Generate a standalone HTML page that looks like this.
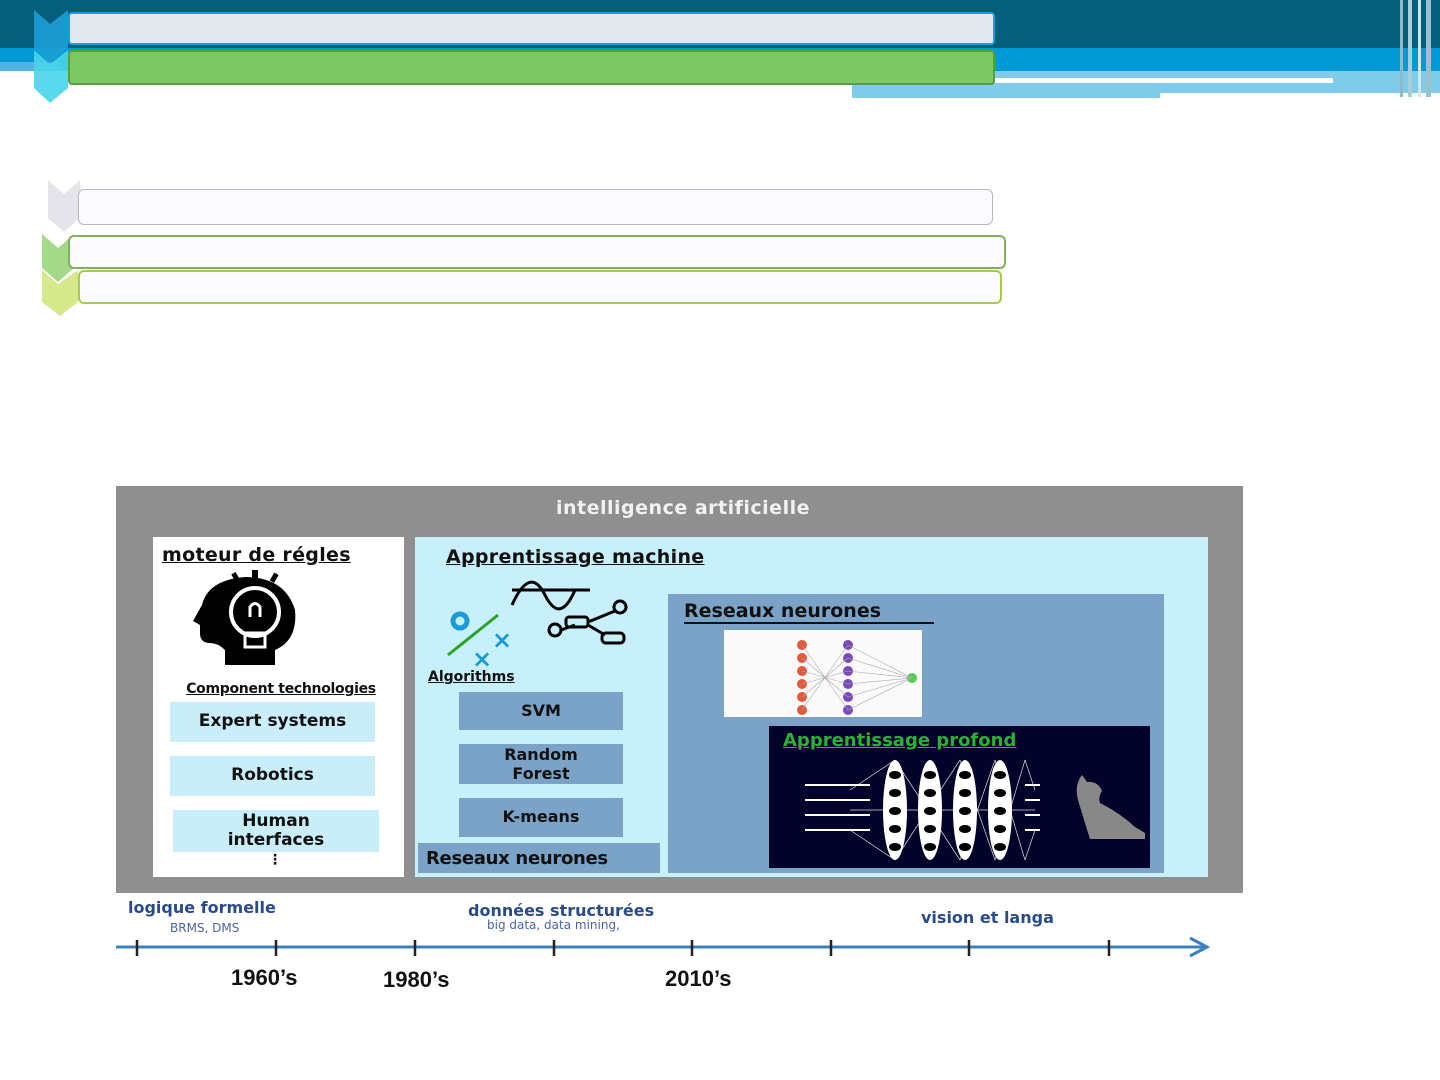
<!DOCTYPE html>
<html><head><meta charset="utf-8"><style>
*{margin:0;padding:0;box-sizing:border-box}
body{width:1440px;height:1080px;background:#fff;position:relative;overflow:hidden;font-family:"DejaVu Sans","Liberation Sans",sans-serif}
.a{position:absolute}
.t{position:absolute;font-weight:bold;text-align:center;color:#111}
</style></head><body>
<div class="a" style="left:0;top:0;width:1440px;height:48px;background:#055f7a"></div>
<div class="a" style="left:0;top:48px;width:1440px;height:23px;background:#0199d6"></div>
<div class="a" style="left:0;top:62px;width:60px;height:9px;background:#4fb4e2"></div>
<div class="a" style="left:852px;top:71px;width:588px;height:22px;background:#7ecbea"></div>
<div class="a" style="left:852px;top:93px;width:308px;height:5px;background:#7ecbea"></div>
<div class="a" style="left:995px;top:78px;width:338px;height:5px;background:#fff"></div>
<div class="a" style="left:1400px;top:0;width:3px;height:97px;background:#8fb9c9"></div>
<div class="a" style="left:1408px;top:0;width:4px;height:97px;background:#aacbd8"></div>
<div class="a" style="left:1418px;top:0;width:3px;height:97px;background:#d0e4ec"></div>
<div class="a" style="left:1426px;top:0;width:5px;height:97px;background:#9bc1cf"></div>
<svg class="a" style="left:30px;top:8px" width="45" height="96">
<polygon points="4,2 20,16 38,2 38,40 20,55 4,40" fill="#1d9fd6" opacity=".9"/>
<polygon points="4,42 20,56 38,42 38,80 20,95 4,80" fill="#48d4ea" opacity=".9"/>
</svg>
<div class="a" style="left:68px;top:12px;width:927px;height:33px;background:#e2e9ef;border:2px solid #1b9fd9;border-radius:4px"></div>
<div class="a" style="left:68px;top:50px;width:927px;height:35px;background:#7dc765;border:2px solid #5b9a48;border-radius:4px"></div>
<svg class="a" style="left:40px;top:178px" width="45" height="140">
<polygon points="8,2 24,16 40,2 40,40 24,54 8,40" fill="#e4e4ea"/>
<polygon points="2,56 18,70 34,56 34,90 18,104 2,90" fill="#a5d98a"/>
<polygon points="2,92 18,106 38,92 38,124 20,138 2,124" fill="#d7e98d"/>
</svg>
<div class="a" style="left:78px;top:189px;width:915px;height:36px;background:#fbfbfd;border:1px solid #b9b5c2;border-radius:6px"></div>
<div class="a" style="left:68px;top:235px;width:938px;height:34px;background:#fbfbfd;border:2px solid #7fb05e;border-radius:6px"></div>
<div class="a" style="left:78px;top:270px;width:924px;height:34px;background:#fbfbfd;border:2px solid #a9c94b;border-radius:6px"></div>
<div class="a" style="left:116px;top:486px;width:1127px;height:407px;background:#8f8f8f"></div>
<div class="t" style="left:116px;top:497px;width:1134px;color:#f2f2f2;font-size:19px;letter-spacing:.5px">intelligence artificielle</div>
<div class="a" style="left:153px;top:537px;width:251px;height:340px;background:#fff"></div>
<div class="a" style="left:415px;top:537px;width:793px;height:340px;background:#c8f0fa"></div>
<div class="t" style="left:162px;top:544px;width:218px;font-size:19px;text-decoration:underline;text-align:left;letter-spacing:.3px">moteur de régles</div>
<svg class="a" style="left:190px;top:565px" width="130" height="105">
<path d="M35,100 L35,85 Q28,78 20,78 Q10,78 10,68 L10,60 L3,56 L12,40 Q18,15 55,12 Q95,12 105,45 Q108,75 85,85 L85,100 Z" fill="#000"/>
<circle cx="65" cy="47" r="24" fill="none" stroke="#fff" stroke-width="4"/>
<rect x="55" y="68" width="20" height="14" fill="none" stroke="#fff" stroke-width="3"/>
<path d="M60,52 L60,42 Q65,35 70,42 L70,52" fill="none" stroke="#fff" stroke-width="3"/>
<rect x="62" y="5" width="6" height="10" fill="#000"/>
<rect x="43" y="8" width="5" height="9" fill="#000" transform="rotate(-30 45 12)"/>
<rect x="82" y="8" width="5" height="9" fill="#000" transform="rotate(30 84 12)"/>
</svg>
<div class="t" style="left:160px;top:681px;width:242px;font-size:14px;text-decoration:underline;letter-spacing:-.3px;white-space:nowrap">Component technologies</div>
<div class="a" style="left:170px;top:702px;width:205px;height:40px;background:#c9eefa"></div>
<div class="t" style="left:170px;top:711px;width:205px;font-size:17px">Expert systems</div>
<div class="a" style="left:170px;top:756px;width:205px;height:40px;background:#c9eefa"></div>
<div class="t" style="left:170px;top:765px;width:205px;font-size:17px">Robotics</div>
<div class="a" style="left:173px;top:810px;width:206px;height:42px;background:#c9eefa"></div>
<div class="t" style="left:173px;top:812px;width:206px;font-size:17px;line-height:19px">Human<br>interfaces</div>
<div class="t" style="left:265px;top:852px;width:20px;font-size:14px">⋮</div>
<div class="t" style="left:446px;top:546px;width:320px;font-size:19px;text-decoration:underline;text-align:left;letter-spacing:.3px">Apprentissage machine</div>
<svg class="a" style="left:440px;top:575px" width="200" height="95">
<circle cx="20" cy="46" r="7" fill="none" stroke="#1a9ad6" stroke-width="5"/>
<line x1="8" y1="80" x2="58" y2="40" stroke="#2aa32a" stroke-width="3"/>
<text x="52" y="73" fill="#1a9ad6" font-size="24" font-weight="bold" font-family="DejaVu Sans">×</text>
<text x="32" y="92" fill="#1a9ad6" font-size="24" font-weight="bold" font-family="DejaVu Sans">×</text>
<path d="M72,30 Q90,-10 105,20 Q120,50 135,15" fill="none" stroke="#000" stroke-width="3"/>
<line x1="72" y1="15" x2="150" y2="15" stroke="#000" stroke-width="3"/>
<circle cx="115" cy="55" r="6" fill="none" stroke="#000" stroke-width="3"/>
<rect x="126" y="42" width="22" height="10" rx="3" fill="none" stroke="#000" stroke-width="3"/>
<circle cx="180" cy="32" r="6" fill="none" stroke="#000" stroke-width="3"/>
<rect x="162" y="58" width="22" height="10" rx="4" fill="none" stroke="#000" stroke-width="3"/>
<path d="M121,55 L135,50 M148,47 L175,36 M148,50 L165,60" stroke="#000" stroke-width="3"/>
</svg>
<div class="t" style="left:428px;top:669px;width:120px;font-size:14px;text-decoration:underline;text-align:left">Algorithms</div>
<div class="a" style="left:459px;top:692px;width:164px;height:38px;background:#7ba3c8"></div>
<div class="t" style="left:459px;top:701px;width:164px;font-size:16px">SVM</div>
<div class="a" style="left:459px;top:744px;width:164px;height:40px;background:#7ba3c8"></div>
<div class="t" style="left:459px;top:745px;width:164px;font-size:16px;line-height:19px">Random<br>Forest</div>
<div class="a" style="left:459px;top:798px;width:164px;height:39px;background:#7ba3c8"></div>
<div class="t" style="left:459px;top:807px;width:164px;font-size:16px">K-means</div>
<div class="a" style="left:418px;top:843px;width:242px;height:30px;background:#7ba3c8"></div>
<div class="t" style="left:426px;top:848px;width:240px;font-size:18px;text-align:left;letter-spacing:-.3px">Reseaux neurones</div>
<div class="a" style="left:668px;top:594px;width:496px;height:279px;background:#7ba3c8"></div>
<div class="t" style="left:684px;top:600px;width:250px;font-size:19px;text-align:left;border-bottom:2px solid #111;line-height:22px">Reseaux neurones</div>
<div class="a" style="left:724px;top:630px;width:198px;height:87px;background:#fafafa"></div>
<svg class="a" style="left:724px;top:630px" width="198" height="87">
<g fill="#e05a3c"><circle cx="78" cy="15" r="5"/><circle cx="78" cy="28" r="5"/><circle cx="78" cy="41" r="5"/><circle cx="78" cy="54" r="5"/><circle cx="78" cy="67" r="5"/><circle cx="78" cy="80" r="5"/></g>
<g fill="#7b4ab8"><circle cx="124" cy="15" r="5"/><circle cx="124" cy="28" r="5"/><circle cx="124" cy="41" r="5"/><circle cx="124" cy="54" r="5"/><circle cx="124" cy="67" r="5"/><circle cx="124" cy="80" r="5"/></g>
<circle cx="188" cy="48" r="5" fill="#5c5"/>
<g stroke="#aaa" stroke-width=".6"><path d="M78,15 L124,80 M78,80 L124,15 M78,28 L124,67 M78,67 L124,28 M78,41 L124,54 M78,54 L124,41 M124,15 L188,48 M124,28 L188,48 M124,41 L188,48 M124,54 L188,48 M124,67 L188,48 M124,80 L188,48"/></g>
</svg>
<div class="a" style="left:769px;top:726px;width:381px;height:142px;background:#03022a"></div>
<div class="t" style="left:783px;top:730px;width:320px;font-size:18px;color:#2fae3a;text-decoration:underline;text-align:left">Apprentissage profond</div>
<svg class="a" style="left:800px;top:755px" width="350" height="110">
<g stroke="#ddd" stroke-width=".7" fill="none">
<path d="M50,35 L95,5 M50,75 L95,105 M95,5 L160,105 M95,105 L160,5 M160,5 L195,105 M160,105 L195,5 M195,5 L225,105 M195,105 L225,5 M225,5 L235,35 M225,105 L235,75 M50,55 L95,55 L235,55"/>
</g>
<g fill="#fff"><ellipse cx="95" cy="55" rx="12" ry="50"/><ellipse cx="130" cy="55" rx="12" ry="50"/><ellipse cx="165" cy="55" rx="12" ry="50"/><ellipse cx="200" cy="55" rx="12" ry="50"/></g>
<g fill="#000"><ellipse cx="95" cy="20" rx="6" ry="4"/><ellipse cx="95" cy="38" rx="6" ry="4"/><ellipse cx="95" cy="56" rx="6" ry="4"/><ellipse cx="95" cy="74" rx="6" ry="4"/><ellipse cx="95" cy="92" rx="6" ry="4"/>
<ellipse cx="130" cy="20" rx="6" ry="4"/><ellipse cx="130" cy="38" rx="6" ry="4"/><ellipse cx="130" cy="56" rx="6" ry="4"/><ellipse cx="130" cy="74" rx="6" ry="4"/><ellipse cx="130" cy="92" rx="6" ry="4"/>
<ellipse cx="165" cy="20" rx="6" ry="4"/><ellipse cx="165" cy="38" rx="6" ry="4"/><ellipse cx="165" cy="56" rx="6" ry="4"/><ellipse cx="165" cy="74" rx="6" ry="4"/><ellipse cx="165" cy="92" rx="6" ry="4"/>
<ellipse cx="200" cy="20" rx="6" ry="4"/><ellipse cx="200" cy="38" rx="6" ry="4"/><ellipse cx="200" cy="56" rx="6" ry="4"/><ellipse cx="200" cy="74" rx="6" ry="4"/><ellipse cx="200" cy="92" rx="6" ry="4"/></g>
<g stroke="#fff" stroke-width="2"><path d="M5,30 L70,30 M5,45 L70,45 M5,60 L70,60 M5,75 L70,75 M225,30 L240,30 M225,45 L240,45 M225,60 L240,60 M225,75 L240,75"/></g>
<path d="M282,20 L287,27 Q298,26 302,36 Q298,42 300,48 Q320,58 335,72 L345,78 L345,84 L290,84 Q284,65 278,45 Q274,30 282,20Z" fill="#888"/>
</svg>
<div class="t" style="left:128px;top:898px;width:220px;font-size:16px;color:#2a4b8a;text-align:left">logique formelle</div>
<div class="t" style="left:170px;top:921px;width:140px;font-size:12px;color:#4b64a0;text-align:left;font-weight:normal">BRMS, DMS</div>
<div class="t" style="left:468px;top:901px;width:270px;font-size:16px;color:#2a4b8a;text-align:left">données structurées</div>
<div class="t" style="left:487px;top:918px;width:230px;font-size:12px;color:#4b64a0;text-align:left;font-weight:normal">big data, data mining,</div>
<div class="t" style="left:921px;top:908px;width:180px;font-size:16px;color:#2a4b8a;text-align:left">vision et langa</div>
<svg class="a" style="left:110px;top:930px" width="1110" height="40">
<line x1="6" y1="17" x2="1095" y2="17" stroke="#3a80c2" stroke-width="3"/>
<path d="M1080,8 L1097,17 L1080,26" fill="none" stroke="#3a80c2" stroke-width="3"/>
<g stroke="#222" stroke-width="2.5"><path d="M27,10V26 M166,10V26 M305,10V26 M444,10V26 M582,10V26 M721,10V26 M859,10V26 M999,10V26"/></g>
</svg>
<div class="a" style="left:231px;top:965px;font-size:22px;font-weight:bold;font-family:'Liberation Sans',sans-serif;color:#111">1960’s</div>
<div class="a" style="left:383px;top:967px;font-size:22px;font-weight:bold;font-family:'Liberation Sans',sans-serif;color:#111">1980’s</div>
<div class="a" style="left:665px;top:966px;font-size:22px;font-weight:bold;font-family:'Liberation Sans',sans-serif;color:#111">2010’s</div>
</body></html>
